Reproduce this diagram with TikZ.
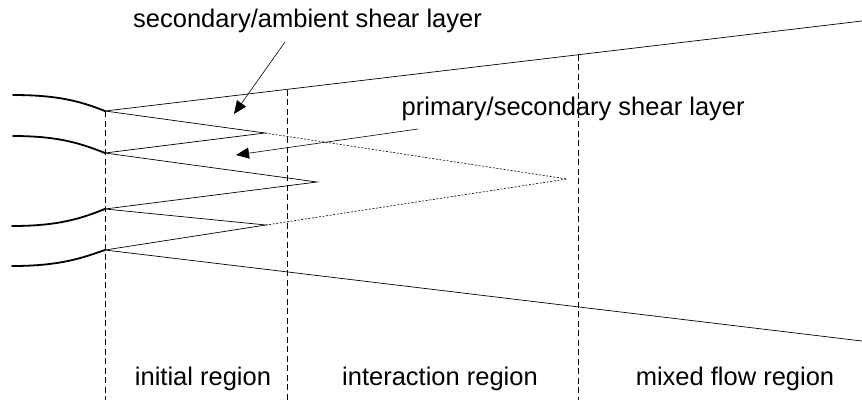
\documentclass[tikz,border=0pt]{standalone}
\usepackage{fontspec}
\setmainfont{Liberation Sans}
\usetikzlibrary{arrows.meta}
\begin{document}
\begin{tikzpicture}[x=1pt,y=-1pt,
  lip/.style={line width=1.8pt,line cap=round},
  shear/.style={line width=0.7pt},
  hidden/.style={line width=0.6pt,dash pattern=on 2pt off 1.6pt},
  region/.style={line width=0.8pt,dash pattern=on 6pt off 3.5pt},
  pointer/.style={line width=0.6pt,-{Triangle[length=13pt,width=11pt]}},
  lbl/.style={inner sep=0pt,font=\fontsize{25.5}{30}\selectfont}]
\useasboundingbox (0,0) rectangle (862,400);
% lip ends and shear-layer points
\coordinate (A) at (105,111);
\coordinate (B) at (105,153);
\coordinate (C) at (105,209);
\coordinate (D) at (105,250);
\coordinate (P1) at (265,133);
\coordinate (P2) at (266,225);
\coordinate (Q) at (317,182);
\coordinate (T) at (567,179);
\coordinate (E1) at (862,21);
\coordinate (E2) at (862,341);
% lip curves
\coordinate (L1) at (13,95);
\coordinate (L2) at (13,136);
\coordinate (L3) at (12,226);
\coordinate (L4) at (12,266);
\draw[lip] (L1) .. controls (60,95) and (82,102) .. (A);
\draw[lip] (L2) .. controls (60,136) and (82,144) .. (B);
\draw[lip] (L3) .. controls (60,226) and (82,218) .. (C);
\draw[lip] (L4) .. controls (60,266) and (82,258) .. (D);
% region boundaries
\coordinate (V1a) at (287,89.5);
\coordinate (V1b) at (287,400);
\coordinate (V2a) at (578,54.5);
\coordinate (V2b) at (578,400);
\coordinate (V0b) at (105,400);
\draw[region] (A) -- (V0b);
\draw[region] (V1a) -- (V1b);
\draw[region] (V2a) -- (V2b);
% shear layers
\draw[shear] (A) -- (E1);
\draw[shear] (D) -- (E2);
\draw[shear] (A) -- (P1) -- (B) -- (Q) -- (C) -- (P2) -- (D);
\draw[hidden] (P1) -- (T) -- (P2);
% labels
\node[lbl,anchor=base west] (sa) at (133,27) {secondary/ambient shear layer};
\node[lbl,anchor=base west] (ps) at (401.5,115) {primary/secondary shear layer};
\node[lbl,anchor=base] (r1) at (203,385) {initial region};
\node[lbl,anchor=base] (r2) at (440,385) {interaction region};
\node[lbl,anchor=base] (r3) at (735,385) {mixed flow region};
% pointers
\coordinate (S1) at (285,42);
\coordinate (H1) at (234,114);
\coordinate (S2) at (418,129);
\coordinate (H2) at (236,155);
\draw[pointer] (S1) -- (H1);
\draw[pointer] (S2) -- (H2);
\end{tikzpicture}
\end{document}
